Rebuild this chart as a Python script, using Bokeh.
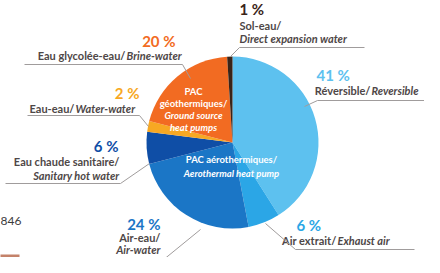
import math
from bokeh.plotting import figure
from bokeh.models import Range1d
from bokeh.core.properties import value
from bokeh.embed import file_html
from bokeh.resources import INLINE

# ---- data ----
shares = [41, 6, 24, 6, 2, 20, 1]
pct_labels = ["41 %", "6 %", "24 %", "6 %", "2 %", "20 %", "1 %"]
fr_names = ["Réversible/", "Air extrait/", "Air-eau/", "Eau chaude sanitaire/",
            "Eau-eau/", "Eau glycolée-eau/", "Sol-eau/"]
en_names = ["Reversible", "Exhaust air", "Air-water", "Sanitary hot water",
            "Water-water", "Brine-water", "Direct expansion water"]
colors = ["#5DC1EF", "#2BA6E6", "#1B76C6", "#0F4EA6", "#F7A823", "#F26B22", "#3A2418"]
group_fr = ["PAC aérothermiques/", "PAC", "géothermiques/"]
group_en = ["Aerothermal heat pump", "Ground source", "heat pumps"]
page_number = "846"

W, H = 424, 257
FONT = value("Lato")
LABEL = "#4E4747"
LEADER = "#A09C9C"


def X(x):
    return x - 8


def Y(y):
    return H + 8 - y


p = figure(width=W, height=H, output_backend="svg", toolbar_location=None,
           x_range=Range1d(0, W), y_range=Range1d(0, H), min_border=0)
p.axis.visible = False
p.grid.visible = False
p.outline_line_color = None
p.background_fill_color = "#FFFFFF"
p.border_fill_color = "#FFFFFF"

# ---- pie ----
cx, cy, R = X(240), Y(150), 86
total = float(sum(shares))
starts, ends = [], []
cum = 0.0
for s in shares:
    starts.append(math.pi / 2 - 2 * math.pi * cum / total)
    cum += s
    ends.append(math.pi / 2 - 2 * math.pi * cum / total)
p.wedge(x=[cx] * len(shares), y=[cy] * len(shares), radius=R,
        start_angle=starts, end_angle=ends, direction="clock",
        fill_color=colors, line_color=None)


def txt(x, y, s, color=LABEL, size="11px", style="bold", align="left"):
    p.text(x=[X(x)], y=[Y(y)], text=[s], text_color=color, text_font=FONT,
           text_font_size=size, text_font_style=style, text_align=align,
           text_baseline="middle")


def leader(xs, ys):
    p.line([X(v) for v in xs], [Y(v) for v in ys], line_color=LEADER, line_width=1)


# 0: Reversible 41 %
txt(324, 82, pct_labels[0], colors[0], "15px")
txt(378, 98, fr_names[0], align="right")
txt(379, 98, en_names[0], style="bold italic")
leader([312, 325, 432], [114, 108, 108])

# 1: Exhaust air 6 %
txt(304, 232, pct_labels[1], colors[1], "15px")
txt(344, 248, fr_names[1], align="right")
txt(345, 248, en_names[1], style="bold italic")
leader([273, 303, 422], [231, 257, 257])

# 2: Air-water 24 %
txt(168, 231, pct_labels[2], colors[2], "15px", align="right")
txt(168, 245, fr_names[2], align="right")
txt(168, 257, en_names[2], style="bold italic", align="right")
leader([118, 170, 208], [268, 268, 237])

# 3: Sanitary hot water 6 %
txt(126, 153, pct_labels[3], colors[3], "15px", align="right")
txt(127, 169, fr_names[3], align="right")
txt(127, 183, en_names[3], style="bold italic", align="right")
leader([13, 128, 157], [191, 191, 171])

# 4: Water-water 2 %
txt(147, 100, pct_labels[4], colors[4], "15px", align="right")
txt(82, 116, fr_names[4], align="right")
txt(83, 116, en_names[4], style="bold italic")
leader([35, 147, 156], [123, 123, 134])

# 5: Brine-water 20 %
txt(183, 48, pct_labels[5], colors[5], "15px", align="right")
txt(133, 63, fr_names[5], align="right")
txt(134, 63, en_names[5], style="bold italic")
leader([32, 190, 198], [72, 72, 86])

# 6: Direct expansion water 1 %
txt(247, 16, pct_labels[6], colors[6], "15px")
txt(247, 33, fr_names[6])
txt(247, 46, en_names[6], style="bold italic")
leader([238, 247, 372], [64, 55, 55])

# ---- group labels inside the pie ----
txt(239, 167, group_fr[0], "#FFFFFF", "9.5px", align="center")
txt(239, 181, group_en[0], "#FFFFFF", "9.5px", "bold italic", align="center")
txt(201, 99, group_fr[1], "#FFFFFF", "9.5px", align="center")
txt(201, 111, group_fr[2], "#FFFFFF", "9.5px", align="center")
txt(201, 123, group_en[1], "#FFFFFF", "9.5px", "bold italic", align="center")
txt(201, 135, group_en[2], "#FFFFFF", "9.5px", "bold italic", align="center")

# ---- page decoration ----
p.text(x=[X(29)], y=[Y(228)], text=[page_number], text_color="#3C3C3C", text_font=FONT,
       text_font_size="12px", text_align="right", text_baseline="middle")
p.quad(left=[X(0)], right=[X(27)], bottom=[Y(273)], top=[Y(262)],
       fill_color="#C4826A", line_color=None)

open("out.html", "w").write(file_html(p, INLINE))
